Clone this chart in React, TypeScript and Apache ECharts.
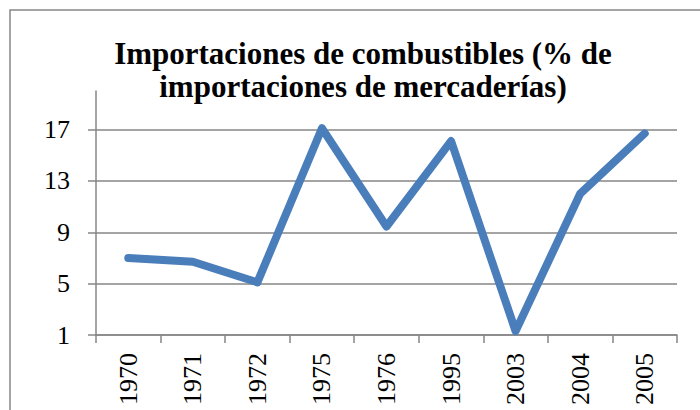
import React, { useEffect, useRef } from "react";
import * as echarts from "echarts";

const categories = ["1970", "1971", "1972", "1975", "1976", "1995", "2003", "2004", "2005"];
const values = [7.0, 6.7, 5.1, 17.1, 9.45, 16.1, 1.3, 12.0, 16.7];
const yTicks = [1, 5, 9, 13, 17];
const titleText = "Importaciones de combustibles (% de\nimportaciones de mercaderías)";

const GRID = "#868686";
const FONT = "Liberation Serif";

export default function App() {
  const ref = useRef<HTMLDivElement>(null);
  useEffect(() => {
    const chart = echarts.init(ref.current!, null, { renderer: "svg" });
    chart.setOption({
      animation: false,
      title: {
        text: titleText,
        left: 358,
        top: 32,
        textAlign: "center",
        textStyle: {
          fontFamily: FONT,
          fontWeight: "bold",
          fontSize: 31,
          lineHeight: 33,
          color: "#000",
        },
      },
      graphic: [
        {
          type: "rect",
          shape: { x: 10, y: 10, width: 720, height: 430 },
          style: { fill: "none", stroke: GRID, lineWidth: 1.5 },
          silent: true,
        },
      ],
      grid: { left: 96, right: 23, top: 91, bottom: 75, containLabel: false },
      xAxis: {
        type: "category",
        data: categories,
        boundaryGap: true,
        axisLine: { show: true, lineStyle: { color: GRID, width: 1.5 } },
        axisTick: { show: true, inside: false, length: 8, lineStyle: { color: GRID, width: 1.5 } },
        axisLabel: {
          rotate: 90,
          margin: 18,
          interval: 0,
          fontFamily: FONT,
          fontSize: 26,
          color: "#000",
        },
        splitLine: { show: false },
      },
      yAxis: {
        type: "value",
        min: 1,
        max: 20,
        interval: 4,
        axisLine: { show: true, lineStyle: { color: GRID, width: 1.5 } },
        axisTick: {
          show: true,
          inside: false,
          length: 8,
          customValues: yTicks,
          lineStyle: { color: GRID, width: 1.5 },
        },
        axisLabel: {
          margin: 26,
          customValues: yTicks,
          fontFamily: FONT,
          fontSize: 26,
          color: "#000",
        },
        splitLine: { show: true, lineStyle: { color: GRID, width: 1.5 } },
      },
      series: [
        {
          type: "line",
          data: values,
          symbol: "none",
          lineStyle: { color: "#4A7EBB", width: 8, cap: "round", join: "round" },
          itemStyle: { color: "#4A7EBB" },
        },
      ],
    });
    return () => chart.dispose();
  }, []);
  return (
    <div
      ref={ref}
      style={{ position: "fixed", left: 0, top: 0, width: 700, height: 410, background: "#fff" }}
    />
  );
}
